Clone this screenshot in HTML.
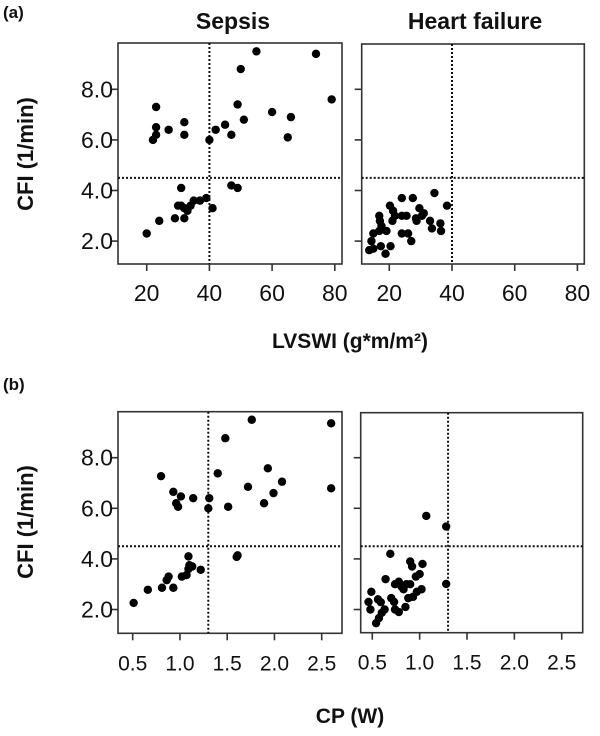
<!DOCTYPE html>
<html><head><meta charset="utf-8"><style>
body{margin:0;background:#fff;width:600px;height:731px;overflow:hidden}
svg text{font-family:"Liberation Sans",Arial,sans-serif;fill:#111}
</style></head><body>
<svg id="c" width="600" height="731">
<text x="3" y="18" font-size="17" font-weight="bold">(a)</text>
<text x="233" y="29" font-size="23" font-weight="bold" text-anchor="middle">Sepsis</text>
<text x="475" y="29" font-size="23" font-weight="bold" text-anchor="middle">Heart failure</text>
<text transform="translate(33,154) rotate(-90)" font-size="22" font-weight="bold" text-anchor="middle">CFI (1/min)</text>
<text x="350" y="348" font-size="21" font-weight="bold" text-anchor="middle">LVSWI (g*m/m²)</text>
<text x="3" y="390" font-size="17" font-weight="bold">(b)</text>
<text transform="translate(33,522) rotate(-90)" font-size="22" font-weight="bold" text-anchor="middle">CFI (1/min)</text>
<text x="350" y="723" font-size="21" font-weight="bold" text-anchor="middle">CP (W)</text>
</svg>
<script>
const yTicks=[2,4,6,8];
const yTickLabels=["2.0","4.0","6.0","8.0"];
const lvTicks=[20,40,60,80];
const lvTickLabels=["20","40","60","80"];
const cpTicks=[0.5,1,1.5,2,2.5];
const cpTickLabels=["0.5","1.0","1.5","2.0","2.5"];
const cfiCut=4.5, lvCut=40, cpCut=1.3;
const sepA_x=[20,24,29,32,30,31,32,33,34,35,37,39,41,31,47,49,22,23,23,23,27,32,32,40,42,45,47,49,50,51,55,60,65,66,74,79];
const sepA_y=[2.3,2.8,2.9,2.9,3.4,3.4,3.3,3.2,3.4,3.6,3.6,3.7,3.3,4.1,4.2,4.1,6.0,6.2,6.5,7.3,6.4,6.2,6.7,6.0,6.4,6.6,6.2,7.4,8.8,6.8,9.5,7.1,6.1,6.9,9.4,7.6];
const hfA_x=[13.6,14.9,14.3,14.9,17.3,18.8,20.4,16.8,17.5,17,16.8,19.1,20.2,21.2,21,21.8,24,27.5,24,25.5,24,26,27,28.7,29.6,30.4,33,33.6,34.4,36.3,36.5,38.4,28.5,31];
const hfA_y=[1.64,1.7,2.0,2.3,1.8,1.5,1.8,2.4,2.6,2.8,3.0,2.4,3.4,3.2,2.8,3.0,3.7,3.7,3.0,3.0,2.3,2.3,2.0,2.8,3.3,3.0,2.8,2.5,3.9,2.7,2.4,3.4,2.9,3.1];
const sepB_x=[0.51,0.66,0.81,0.93,0.86,0.88,1.02,1.07,1.09,1.13,1.1,1.22,1.09,1.61,1.6,0.8,0.93,0.96,0.98,1.01,1.14,1.3,1.31,1.4,1.48,1.51,1.72,1.76,1.89,1.93,1.99,2.08,2.6,2.6];
const sepB_y=[2.26,2.78,2.86,2.86,3.16,3.3,3.3,3.36,3.6,3.7,3.75,3.57,4.1,4.14,4.08,7.27,6.65,6.2,6.06,6.47,6.4,6.0,6.4,7.38,8.77,6.06,6.85,9.5,6.2,7.58,6.6,7.05,9.36,6.79];
const hfB_x=[1.07,1.28,1.28,0.69,0.49,0.46,0.48,0.54,0.57,0.6,0.63,0.56,0.59,0.64,0.7,0.73,0.74,0.78,0.85,0.74,0.78,0.81,0.83,0.88,0.93,0.97,0.9,0.92,1.03,1.0,0.96,1.02,0.86,0.9];
const hfB_y=[5.7,5.28,3.01,4.2,2.7,2.3,2.0,1.46,1.66,1.87,2.0,2.4,2.29,3.2,2.45,2.3,2.0,1.9,2.1,3.0,3.1,2.9,2.8,2.45,2.5,2.7,3.9,3.7,3.8,3.4,3.3,2.8,3.0,3.0];

const NS="http://www.w3.org/2000/svg", svg=document.getElementById('c');
function mk(t,a,p){const e=document.createElementNS(NS,t);for(const k in a)e.setAttribute(k,a[k]);(p||svg).appendChild(e);return e;}
function panel(name,box,xs,ys,xTicks,xLabels,xCut,px,py,showYLabels,xfs){
  const g=mk('g',{});
  
  
  const fx=v=>px.x0+(v-px.v0)*px.k, fy=v=>py.y0-(v-py.v0)*py.k;
  const r=mk('rect',{x:box[0],y:box[1],width:box[2]-box[0],height:box[3]-box[1],fill:'none',stroke:'#333','stroke-width':1.6},g);
  
  
  xTicks.forEach((t,i)=>{const x=fx(t);
    mk('line',{x1:x,x2:x,y1:box[3],y2:box[3]+7,stroke:'#333','stroke-width':1.6},g);
    const tx=mk('text',{x:x,y:box[3]+37,'font-size':xfs,'text-anchor':'middle'},g);tx.textContent=xLabels[i];
    
    });
  yTicks.forEach((t,i)=>{const y=fy(t);
    mk('line',{x1:box[0]-7,x2:box[0],y1:y,y2:y,stroke:'#333','stroke-width':1.6},g);
    if(showYLabels){const tx=mk('text',{x:box[0]-5,y:y+8,'font-size':23,'text-anchor':'end'},g);tx.textContent=yTickLabels[i];
      
      }});
  const hl=mk('line',{x1:box[0],x2:box[2],y1:fy(cfiCut),y2:fy(cfiCut),stroke:'#111','stroke-width':2,'stroke-dasharray':'2 2'},g);
  
  
  const vl=mk('line',{x1:fx(xCut),x2:fx(xCut),y1:box[1],y2:box[3],stroke:'#111','stroke-width':2,'stroke-dasharray':'2 2'},g);
  
  
  xs.forEach((v,i)=>{const c=mk('circle',{cx:fx(v),cy:fy(ys[i]),r:4.2,fill:'#000'},g);
    
    });
}
const pyA={y0:89.3,v0:8,k:25.3}, pyB={y0:457.7,v0:8,k:25.3};
panel('sepsis-lvswi-panel',[118,43,342,264],sepA_x,sepA_y,lvTicks,lvTickLabels,lvCut,{x0:146.7,v0:20,k:3.135},pyA,true,23);
panel('hf-lvswi-panel',[361.7,44,584.3,264],hfA_x,hfA_y,lvTicks,lvTickLabels,lvCut,{x0:389.3,v0:20,k:3.135},pyA,false,23);
panel('sepsis-cp-panel',[118,411.7,342,633.3],sepB_x,sepB_y,cpTicks,cpTickLabels,cpCut,{x0:132.7,v0:0.5,k:94.5},pyB,true,21);
panel('hf-cp-panel',[360.7,412.7,582.7,632.7],hfB_x,hfB_y,cpTicks,cpTickLabels,cpCut,{x0:372.3,v0:0.5,k:94.7},pyB,false,21);
</script>
</body></html>
